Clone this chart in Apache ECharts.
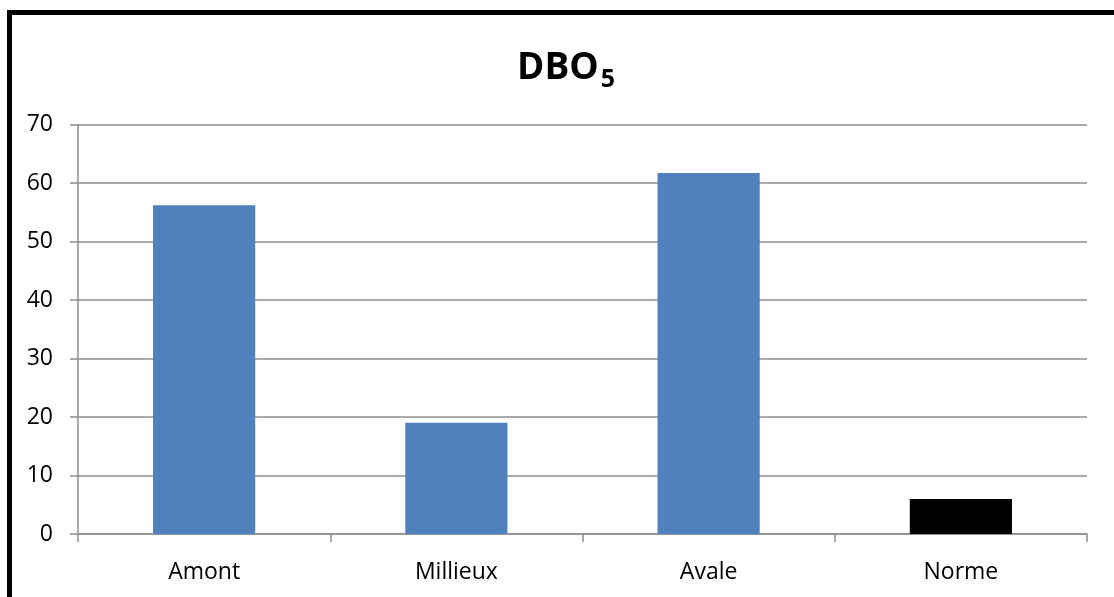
<!DOCTYPE html>
<html>
<head>
<meta charset="utf-8">
<script src="https://cdn.jsdelivr.net/npm/echarts@6/dist/echarts.min.js"></script>
<style>
html,body{margin:0;padding:0;background:#fff;}
#main{width:1114px;height:597px;}
</style>
</head>
<body>
<div id="main"></div>
<script>
var categories = ['Amont', 'Millieux', 'Avale', 'Norme'];
var values = [56.2, 19.0, 61.7, 6.0];
var barColors = ['#4F81BD', '#4F81BD', '#4F81BD', '#000000'];
var yTicks = [0, 10, 20, 30, 40, 50, 60, 70];

var chart = echarts.init(document.getElementById('main'), null, {renderer: 'canvas'});
var gridColor = '#8e8e8e';
chart.setOption({
  animation: false,
  backgroundColor: '#ffffff',
  title: {
    text: '{a|DBO}{b|5}',
    left: 512,
    top: 40,
    textStyle: {
      rich: {
        a: {fontFamily: 'Open Sans', fontWeight: 'bold', fontSize: 37, color: '#000'},
        b: {fontFamily: 'Open Sans', fontWeight: 'bold', fontSize: 25, color: '#000', padding: [22, 0, 0, 2]}
      }
    }
  },
  graphic: [{
    type: 'rect',
    shape: {x: 9.5, y: 12.5, width: 1200, height: 700},
    style: {fill: 'none', stroke: '#000', lineWidth: 5},
    silent: true
  }],
  grid: {left: 78, right: 27, top: 124.5, bottom: 63, containLabel: false},
  xAxis: {
    type: 'category',
    data: categories,
    axisLine: {show: true, lineStyle: {color: gridColor, width: 1.5}},
    axisTick: {show: true, length: 8, lineStyle: {color: gridColor, width: 1.5}},
    axisLabel: {fontFamily: 'Open Sans', fontSize: 23, color: '#000', margin: 27}
  },
  yAxis: {
    type: 'value',
    min: yTicks[0],
    max: yTicks[yTicks.length - 1],
    interval: 10,
    axisLine: {show: true, lineStyle: {color: gridColor, width: 1.5}},
    axisTick: {show: true, length: 8, lineStyle: {color: gridColor, width: 1.5}},
    splitLine: {show: true, lineStyle: {color: gridColor, width: 1.5}},
    axisLabel: {fontFamily: 'Open Sans', fontSize: 23, color: '#000', margin: 25}
  },
  series: [{
    type: 'bar',
    barWidth: '40.5%',
    data: values.map(function (v, i) {
      return {value: v, itemStyle: {color: barColors[i]}};
    })
  }]
});
</script>
</body>
</html>
